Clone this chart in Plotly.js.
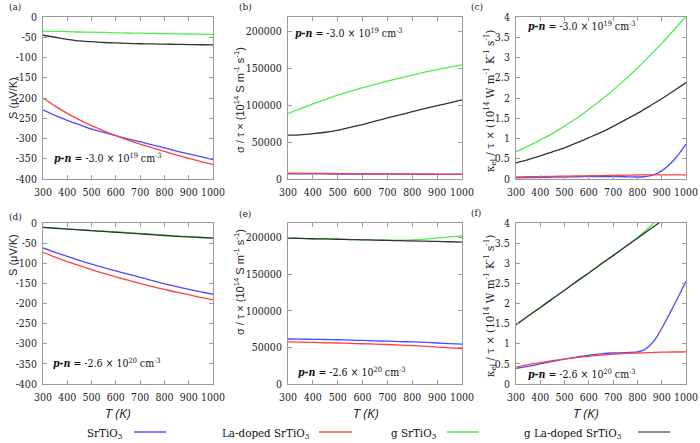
<!DOCTYPE html>
<html>
<head>
<meta charset="utf-8">
<script src="https://cdn.plot.ly/plotly-3.0.1.min.js"></script>
<style>
  html, body { margin: 0; padding: 0; background: #fff; }
  #chart { width: 700px; height: 443px; }
</style>
</head>
<body>
<div id="chart"></div>
<script>
// temperature grids (K)
var temps = [300, 350, 400, 450, 500, 550, 600, 650, 700, 750, 800, 850, 900, 950, 1000];
var tempsFine = [300, 350, 400, 450, 500, 550, 600, 650, 700, 750, 800, 825, 850, 875, 900, 925, 950, 975, 1000];

var seriesNames = ['SrTiO<sub>3</sub>', 'La-doped SrTiO<sub>3</sub>', 'g SrTiO<sub>3</sub>', 'g La-doped SrTiO<sub>3</sub>'];
var seriesColors = ['#4a4aff', '#ff4040', '#4cf04c', '#333333'];
var legendColors = ['#8080ff', '#ff7b7b', '#7cf47c', '#8c8c8c'];

// (a) Seebeck, p-n = -3.0e19
var seebeckLowSr   = [-229, -243, -255, -266, -277, -285, -293, -301, -308, -316, -323, -331, -338, -345, -352];
var seebeckLowLa   = [-200, -220, -238, -254, -268, -281, -293, -304, -314, -323, -332, -341, -349, -357, -364];
var seebeckLowG    = [-35, -35.5, -36, -37, -37.5, -38, -39, -39.5, -40, -40.5, -41, -41.5, -42, -42.5, -43];
var seebeckLowGLa  = [-45, -50, -55, -59, -61, -63, -64, -65, -66, -66.5, -67, -67.5, -68, -68.5, -69];

// (b) sigma/tau, p-n = -3.0e19
var sigmaLowSr  = [7000, 6950, 6900, 6850, 6800, 6750, 6700, 6650, 6600, 6550, 6500, 6450, 6400, 6350, 6300];
var sigmaLowLa  = [7800, 7700, 7600, 7500, 7400, 7300, 7200, 7100, 7000, 6900, 6800, 6700, 6600, 6550, 6500];
var sigmaLowG   = [89000, 95500, 102000, 108000, 114000, 119000, 124000, 128500, 133000, 137000, 141000, 145000, 148500, 152000, 155000];
var sigmaLowGLa = [59500, 60000, 61500, 63500, 66000, 70000, 74000, 78500, 83000, 87000, 91500, 95500, 99500, 103500, 107500];

// (c) kappa_el/tau, p-n = -3.0e19 (SrTiO3 on the fine grid)
var kappaLowSr  = [0.03, 0.035, 0.04, 0.045, 0.05, 0.055, 0.06, 0.062, 0.06, 0.055, 0.05, 0.055, 0.075, 0.12, 0.2, 0.32, 0.47, 0.65, 0.86];
var kappaLowLa  = [0.05, 0.055, 0.06, 0.065, 0.07, 0.075, 0.08, 0.085, 0.09, 0.095, 0.1, 0.1, 0.1, 0.1, 0.1];
var kappaLowG   = [0.67, 0.81, 0.96, 1.12, 1.31, 1.5, 1.72, 1.95, 2.2, 2.46, 2.74, 3.04, 3.35, 3.68, 4.02];
var kappaLowGLa = [0.4, 0.48, 0.57, 0.67, 0.77, 0.89, 1.02, 1.15, 1.3, 1.46, 1.62, 1.8, 1.98, 2.18, 2.38];

// (d) Seebeck, p-n = -2.6e20
var seebeckHighSr  = [-62, -73, -83, -93, -102, -111, -119, -127, -135, -143, -151, -158, -165, -171, -177];
var seebeckHighLa  = [-73, -85, -96, -106, -116, -125, -134, -142, -150, -158, -165, -172, -178, -185, -191];
var seebeckHighG   = [-11, -13, -15, -17, -19, -20.5, -22, -24, -26, -28, -30, -32, -34, -35.5, -37];
var seebeckHighGLa = [-11, -13, -15, -17, -19, -21, -23, -25, -27, -29, -31, -33, -34.5, -36, -37.5];

// (e) sigma/tau, p-n = -2.6e20
var sigmaHighSr  = [61500, 61300, 61000, 60800, 60500, 60000, 59500, 59000, 58500, 58000, 57500, 57000, 56000, 55200, 54500];
var sigmaHighLa  = [57500, 57200, 56800, 56400, 56000, 55500, 55000, 54500, 54000, 53200, 52500, 51500, 50500, 49500, 48500];
var sigmaHighG   = [199500, 199000, 198500, 198200, 197800, 197400, 197000, 196700, 196500, 196600, 197000, 198000, 199500, 201000, 202500];
var sigmaHighGLa = [199500, 199000, 198500, 198200, 197800, 197400, 197000, 196600, 196200, 195800, 195500, 195200, 194800, 194400, 194000];

// (f) kappa_el/tau, p-n = -2.6e20 (SrTiO3 on the fine grid)
var kappaHighSr  = [0.39, 0.44, 0.5, 0.56, 0.62, 0.67, 0.72, 0.75, 0.77, 0.78, 0.8, 0.84, 0.95, 1.13, 1.38, 1.66, 1.95, 2.25, 2.55];
var kappaHighLa  = [0.42, 0.48, 0.53, 0.58, 0.62, 0.66, 0.69, 0.72, 0.74, 0.76, 0.77, 0.78, 0.79, 0.795, 0.8];
var kappaHighG   = [1.47, 1.69, 1.9, 2.12, 2.33, 2.55, 2.76, 2.98, 3.19, 3.41, 3.64, 3.9, 4.18, 4.45, 4.7];
var kappaHighGLa = [1.47, 1.69, 1.9, 2.12, 2.33, 2.55, 2.76, 2.98, 3.19, 3.41, 3.62, 3.84, 4.05, 4.27, 4.48];

// tick labels
var tempTicks = [300, 400, 500, 600, 700, 800, 900, 1000];
var seebeckTicks = [0, -50, -100, -150, -200, -250, -300, -350, -400];
var seebeckTickText = ['0', '-50', '-100', '-150', '-200', '-250', '-300', '-350', '-400'];
var sigmaTicks = [0, 50000, 100000, 150000, 200000];
var kappaTicks = [0, 0.5, 1, 1.5, 2, 2.5, 3, 3.5, 4];

var W = 700, H = 443;
function px(x) { return x / W; }
function py(y) { return 1 - y / H; }

// single family names only: a comma list is not resolved here
var serif = 'DejaVu Serif Condensed';
var sans = 'Liberation Sans';

var traces = [];
function addPanel(n, sets) {
  sets.forEach(function (s, i) {
    traces.push({
      x: s[0], y: s[1], type: 'scatter', mode: 'lines',
      name: seriesNames[i],
      line: { color: seriesColors[i], width: 1.3, shape: 'spline', smoothing: 0.6 },
      xaxis: 'x' + (n === 1 ? '' : n), yaxis: 'y' + (n === 1 ? '' : n),
      showlegend: false, hoverinfo: 'skip'
    });
  });
}
// draw order: SrTiO3, La-doped, g, g La-doped
addPanel(1, [[temps, seebeckLowSr], [temps, seebeckLowLa], [temps, seebeckLowG], [temps, seebeckLowGLa]]);
addPanel(2, [[temps, sigmaLowSr], [temps, sigmaLowLa], [temps, sigmaLowG], [temps, sigmaLowGLa]]);
addPanel(3, [[tempsFine, kappaLowSr], [temps, kappaLowLa], [temps, kappaLowG], [temps, kappaLowGLa]]);
addPanel(4, [[temps, seebeckHighSr], [temps, seebeckHighLa], [temps, seebeckHighG], [temps, seebeckHighGLa]]);
addPanel(5, [[temps, sigmaHighSr], [temps, sigmaHighLa], [temps, sigmaHighG], [temps, sigmaHighGLa]]);
addPanel(6, [[tempsFine, kappaHighSr], [temps, kappaHighLa], [temps, kappaHighG], [temps, kappaHighGLa]]);

var colDom = [[px(43), px(213)], [px(288), px(462)], [px(516), px(686)]];
var rowDom = [[py(179), py(17)], [py(384), py(223)]];

function baseAxis() {
  return {
    showgrid: false, zeroline: false, showline: true, mirror: 'allticks',
    linecolor: '#9a9a9a', linewidth: 1,
    ticks: 'inside', ticklen: 4, tickcolor: '#9a9a9a',
    ticklabelstandoff: 3, tickangle: 0,
    tickfont: { family: serif, size: 10.5, color: '#222' }
  };
}

var layout = {
  width: W, height: H,
  margin: { l: 0, r: 0, t: 0, b: 0 },
  paper_bgcolor: '#fff', plot_bgcolor: '#fff',
  showlegend: false,
  font: { family: serif },
  annotations: [], shapes: []
};

for (var n = 1; n <= 6; n++) {
  var col = (n - 1) % 3, row = n <= 3 ? 0 : 1;
  var xa = baseAxis(), ya = baseAxis();
  var suf = n === 1 ? '' : n;
  xa.domain = colDom[col];
  xa.anchor = 'y' + suf;
  xa.range = [300, 1000];
  xa.tickvals = tempTicks;
  ya.domain = rowDom[row];
  ya.anchor = 'x' + suf;
  if (col === 0) {
    ya.range = [-400, 0];
    ya.tickvals = seebeckTicks;
    ya.ticktext = seebeckTickText;
  } else if (col === 1) {
    ya.range = [0, 220000];
    ya.tickvals = sigmaTicks;
    ya.tickformat = 'd';
  } else {
    ya.range = [0, 4];
    ya.tickvals = kappaTicks;
  }
  layout['xaxis' + suf] = xa;
  layout['yaxis' + suf] = ya;
}

function note(text, x, y, opts) {
  var a = {
    text: text, xref: 'paper', yref: 'paper', x: px(x), y: py(y),
    showarrow: false, xanchor: 'left', yanchor: 'middle',
    font: { family: serif, size: 10.5, color: '#111' }
  };
  for (var k in opts) a[k] = opts[k];
  layout.annotations.push(a);
}

// panel letters
var letters = ['(a)', '(b)', '(c)', '(d)', '(e)', '(f)'];
var letterPos = [[7, 6], [237, 6], [469, 6], [7, 216], [237, 214], [469, 212]];
letters.forEach(function (l, i) {
  note(l, letterPos[i][0], letterPos[i][1], { font: { family: serif, size: 10, color: '#222' } });
});

// carrier concentration notes
var pnLow = '<b><i>p-n</i></b> = -3.0 × 10<sup>19</sup> cm<sup>-3</sup>';
var pnHigh = '<b><i>p-n</i></b> = -2.6 × 10<sup>20</sup> cm<sup>-3</sup>';
note(pnLow, 52, 157);
note(pnLow, 293, 32);
note(pnLow, 526, 25);
note(pnHigh, 51, 362);
note(pnHigh, 296, 371);
note(pnHigh, 526, 373);

// y titles
var sTitle = 'S (μV/K)';
var sigTitle = 'σ / τ × (10<sup>14</sup> S m<sup>-1</sup> s<sup>-1</sup>)';
var kapTitle = 'κ<sub>el</sub> / τ × (10<sup>14</sup> W m<sup>-1</sup> K<sup>-1</sup> s<sup>-1</sup>)';
var ySans = { family: sans, size: 11, color: '#222' };
var ySerif = { family: serif, size: 11.5, color: '#222' };
note(sTitle, 13, 98, { textangle: -90, xanchor: 'center', font: ySans });
note(sTitle, 13, 255, { textangle: -90, xanchor: 'center', font: ySans });
note(sigTitle, 239, 100, { textangle: -90, xanchor: 'center', font: ySans });
note(sigTitle, 239, 282, { textangle: -90, xanchor: 'center', font: ySans });
note(kapTitle, 490, 101, { textangle: -90, xanchor: 'center', font: ySerif });
note(kapTitle, 490, 306, { textangle: -90, xanchor: 'center', font: ySerif });

// x titles
var tFont = { family: 'Open Sans', size: 13.5, color: '#222' };
[118, 366, 586].forEach(function (x) {
  note('<i>T (K)</i>', x, 413, { xanchor: 'center', font: tFont });
});

// legend row: text then a line swatch
var legTextRight = [125, 312, 439, 624];
var legLine = [[134, 166], [319, 352], [447, 479], [638, 670]];
seriesNames.forEach(function (name, i) {
  note(name, legTextRight[i], 433, { xanchor: 'right', font: { family: serif, size: 11.5, color: '#111' } });
  layout.shapes.push({
    type: 'line', xref: 'paper', yref: 'paper',
    x0: px(legLine[i][0]), x1: px(legLine[i][1]), y0: py(432), y1: py(432),
    line: { color: legendColors[i], width: 2 }
  });
});

Plotly.newPlot('chart', traces, layout, { staticPlot: true, displayModeBar: false });
</script>
</body>
</html>
